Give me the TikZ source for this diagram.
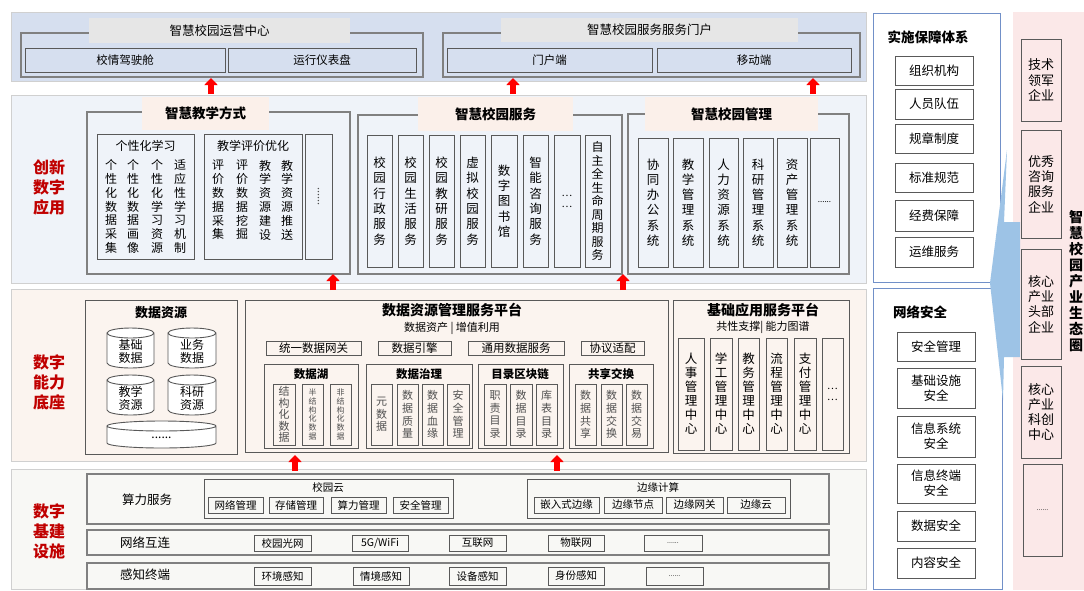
\documentclass[tikz,border=0pt]{standalone}
\usepackage{fontspec}
\setmainfont{Noto Sans CJK SC}
\usetikzlibrary{arrows.meta}
\definecolor{topbg}{HTML}{D6DFEF}
\definecolor{appbg}{HTML}{EFF3F9}
\definecolor{capbg}{HTML}{FBF4EF}
\definecolor{infbg}{HTML}{F8F8F5}
\definecolor{titlegray}{HTML}{E6E6E6}
\definecolor{peach}{HTML}{FBF0EA}
\definecolor{lgray}{HTML}{D0D0D0}
\definecolor{dgray}{HTML}{595959}
\definecolor{mgray}{HTML}{808080}
\definecolor{panelblue}{HTML}{7190C8}
\definecolor{ecobg}{HTML}{FBE8E8}
\definecolor{wedgeblue}{HTML}{9DC3E6}
\definecolor{lblred}{HTML}{C00000}
\definecolor{arrred}{HTML}{FF0000}
\definecolor{txtgray}{HTML}{505050}
\newcommand\fs[2]{\fontsize{#1}{#2}\selectfont}
\makeatletter
\def\vt#1{\vt@a#1\vt@end}
\def\vt@a#1#2\vt@end{#1\ifx\vt@end#2\vt@end\else\\\vt@a#2\vt@end\fi}
\makeatother
% box from corners: style, name, x1, y1, x2, y2, text
\newcommand\bx[7]{%
  \pgfmathsetmacro\bxw{#5-#3}\pgfmathsetmacro\bxh{#6-#4}%
  \node[#1, minimum width=\bxw pt, minimum height=\bxh pt] (#2) at ({(#3+#5)/2},{(#4+#6)/2}) {#7};}
% cylinder: name, x1, y1, x2, y2, text
\newcommand\cyl[6]{%
  \pgfmathsetmacro\cxa{#2}\pgfmathsetmacro\cxb{#4}%
  \pgfmathsetmacro\cya{#3+5}\pgfmathsetmacro\cyb{#5-5}\pgfmathsetmacro\crx{(#4-#2)/2}%
  \draw[cylst] (\cxa,\cya) -- (\cxa,\cyb) arc[start angle=180,end angle=360,x radius=\crx pt,y radius=5pt]
     -- (\cxb,\cya) arc[start angle=0,end angle=360,x radius=\crx pt,y radius=5pt];
  \node[cyltext] (#1) at ({(#2+#4)/2},{(#3+#5)/2+3}) {#6};}
\tikzset{
  band/.style={draw=lgray, line width=0.8pt, inner sep=0pt},
  frame/.style={draw=mgray, line width=1.3pt, inner sep=0pt},
  sub/.style={draw=dgray, line width=0.9pt, inner sep=0pt, align=center, font=\fs{11.5}{13}},
  ttlgray/.style={fill=titlegray, inner sep=0pt, font=\fs{12.5}{14}},
  ttlpeach/.style={fill=peach, inner sep=0pt, font=\bfseries\fs{13.5}{15}},
  bandlabel/.style={text=lblred, font=\bfseries\fs{16}{20}, align=center, inner sep=0pt},
  vtx/.style={align=center, inner sep=0pt, font=\fs{12}{13.8}},
  svc/.style={sub, font=\fs{12.5}{15.3}},
  app/.style={sub, font=\fs{12.5}{14}},
  small/.style={sub, text=txtgray, font=\fs{11}{12.7}},
  rowbox/.style={draw=mgray, line width=1.3pt, inner sep=0pt},
  ibox/.style={sub, font=\fs{10.5}{12}},
  plain/.style={inner sep=0pt, align=center},
  cylst/.style={draw=dgray, line width=0.9pt, fill=white},
  cyltext/.style={inner sep=0pt, align=center, font=\fs{12}{13}},
  panel/.style={draw=panelblue, line width=1pt, fill=white, inner sep=0pt},
  pitem/.style={sub, font=\fs{12.5}{15}},
  eitem/.style={sub, font=\fs{13}{15.3}},
  uparr/.style={draw=arrred, line width=6pt, -{Triangle[width=13pt 0,length=7pt 0]}}
}
\begin{document}
\begin{tikzpicture}[x=1pt,y=-1pt]
\useasboundingbox (0,0) rectangle (1084,590);
\fill[white] (0,0) rectangle (1084,590);

% ===== bands =====
\bx{band, fill=topbg}{bandA}{11}{12}{866}{81}{}
\bx{band, fill=appbg}{bandB}{11}{95}{866}{283}{}
\bx{band, fill=capbg}{bandC}{11}{289}{866}{461}{}
\bx{band, fill=infbg}{bandD}{11}{469}{866}{589}{}
\node[bandlabel] (lblB) at (49,187) {创新\\数字\\应用};
\node[bandlabel] (lblC) at (49,382) {数字\\能力\\底座};
\node[bandlabel] (lblD) at (49,531) {数字\\基建\\设施};

% ===== top band =====
\bx{frame}{opsF}{21}{33}{423}{77}{}
\bx{ttlgray}{opsT}{89}{18}{350}{43}{智慧校园运营中心}
\bx{sub}{ops1}{25}{48}{225}{72}{校情驾驶舱}
\bx{sub}{ops2}{228}{48}{416}{72}{运行仪表盘}
\bx{frame}{porF}{443}{33}{860}{77}{}
\bx{ttlgray}{porT}{501}{18}{798}{42}{智慧校园服务服务门户}
\bx{sub}{por1}{447}{48}{652}{72}{门户端}
\bx{sub}{por2}{657}{48}{851}{72}{移动端}

% ===== application band =====
\bx{frame}{teachF}{87}{112}{350}{274}{}
\bx{ttlpeach}{teachT}{142}{97}{269}{130}{智慧教学方式}
\bx{sub}{pers}{97}{134}{194}{259}{}
\node[plain, font=\fs{12}{14}] (persT) at (145.5,146) {个性化学习};
\node[vtx] (p1) at (111,206.5) {\vt{个性化数据采集}};
\node[vtx] (p2) at (133,206.5) {\vt{个性化数据画像}};
\node[vtx] (p3) at (157,206.5) {\vt{个性化学习资源}};
\node[vtx] (p4) at (180,206.5) {\vt{适应性学习机制}};
\bx{sub}{eval}{204}{134}{302}{259}{}
\node[plain, font=\fs{12}{14}] (evalT) at (253,146) {教学评价优化};
\node[vtx] (e1) at (218,200) {\vt{评价数据采集}};
\node[vtx] (e2) at (242,200) {\vt{评价数据挖掘}};
\node[vtx] (e3) at (265,200) {\vt{教学资源建设}};
\node[vtx] (e4) at (287,200) {\vt{教学资源推送}};
\bx{sub}{more1}{305}{134}{332}{259}{}
\node[plain, rotate=-90, font=\fs{11}{11}, text=txtgray] (more1t) at (more1) {......};

\bx{frame}{svcF}{358}{115}{622}{274}{}
\bx{ttlpeach}{svcT}{418}{97}{573}{131}{智慧校园服务}
\bx{svc}{s1}{367}{135}{392}{267}{\vt{校园行政服务}}
\bx{svc}{s2}{398}{135}{423}{267}{\vt{校园生活服务}}
\bx{svc}{s3}{429}{135}{454}{267}{\vt{校园教研服务}}
\bx{svc}{s4}{460}{135}{485}{267}{\vt{虚拟校园服务}}
\bx{svc}{s5}{491}{135}{517}{267}{\vt{数字图书馆}}
\bx{svc}{s6}{523}{135}{548}{267}{\vt{智能咨询服务}}
\bx{svc, font=\fs{10}{11}}{s7}{554}{135}{580}{267}{…\\…}
\bx{svc, font=\fs{12}{13.5}}{s8}{585}{135}{610}{267}{\vt{自主全生命周期服务}}

\bx{frame}{mgtF}{628}{114}{849}{274}{}
\bx{ttlpeach}{mgtT}{645}{97}{818}{131}{智慧校园管理}
\bx{svc}{m1}{638}{138}{668}{267}{\vt{协同办公系统}}
\bx{svc}{m2}{673}{138}{703}{267}{\vt{教学管理系统}}
\bx{svc}{m3}{709}{138}{738}{267}{\vt{人力资源系统}}
\bx{svc}{m4}{743}{138}{773}{267}{\vt{科研管理系统}}
\bx{svc}{m5}{777}{138}{807}{267}{\vt{资产管理系统}}
\bx{svc, font=\fs{8}{9}}{m6}{810}{138}{839}{267}{......}

% ===== capability band =====
\bx{sub}{resF}{85}{300}{237}{454}{}
\node[plain, font=\bfseries\fs{13}{15}] (resT) at (161,313) {数据资源};
\cyl{c1}{107}{328}{154}{368}{基础\\数据}
\cyl{c2}{168}{328}{216}{368}{业务\\数据}
\cyl{c3}{107}{375}{154}{415}{教学\\资源}
\cyl{c4}{168}{375}{216}{415}{科研\\资源}
\cyl{c5}{107}{421}{216}{448}{......}

\bx{sub}{drmF}{245}{300}{668}{452}{}
\node[plain, font=\bfseries\fs{14}{16}] (drmT) at (452,310) {数据资源管理服务平台};
\node[plain, font=\fs{11}{13}] (drmS) at (452,328) {数据资产 | 增值利用};
\bx{sub}{g1}{266}{341}{361}{355}{统一数据网关}
\bx{sub}{g2}{378}{341}{451}{355}{数据引擎}
\bx{sub}{g3}{468}{341}{564}{355}{通用数据服务}
\bx{sub}{g4}{581}{341}{644}{355}{协议适配}
\bx{sub}{lakeF}{264}{364}{358}{448}{}
\node[plain, font=\bfseries\fs{11.5}{13}] (lakeT) at (311,374) {数据湖};
\bx{small, font=\fs{11}{11.5}}{l1}{273}{384}{295}{445}{\vt{结构化数据}}
\bx{small, font=\fs{8}{8.8}}{l2}{302}{384}{323}{445}{\vt{半结构化数据}}
\bx{small, font=\fs{8}{8.8}}{l3}{330}{384}{351}{445}{\vt{非结构化数据}}
\bx{sub}{govF}{366}{364}{472}{448}{}
\node[plain, font=\bfseries\fs{11.5}{13}] (govT) at (419,374) {数据治理};
\bx{small}{d1}{371}{384}{392}{445}{\vt{元数据}}
\bx{small}{d2}{397}{384}{418}{445}{\vt{数据质量}}
\bx{small}{d3}{422}{384}{443}{445}{\vt{数据血缘}}
\bx{small}{d4}{447}{384}{469}{445}{\vt{安全管理}}
\bx{sub}{catF}{478}{364}{563}{448}{}
\node[plain, font=\bfseries\fs{11.5}{13}] (catT) at (520,374) {目录区块链};
\bx{small}{k1}{484}{384}{506}{445}{\vt{职责目录}}
\bx{small}{k2}{510}{384}{532}{445}{\vt{数据目录}}
\bx{small}{k3}{536}{384}{557}{445}{\vt{库表目录}}
\bx{sub}{shrF}{569}{364}{653}{448}{}
\node[plain, font=\bfseries\fs{11.5}{13}] (shrT) at (611,374) {共享交换};
\bx{small}{x1}{575}{384}{596}{445}{\vt{数据共享}}
\bx{small}{x2}{601}{384}{622}{445}{\vt{数据交换}}
\bx{small}{x3}{626}{384}{647}{445}{\vt{数据交易}}

\bx{sub}{bapF}{673}{300}{849}{453}{}
\node[plain, font=\bfseries\fs{14}{16}] (bapT) at (763,310) {基础应用服务平台};
\node[plain, font=\fs{11}{13}] (bapS) at (763,327) {共性支撑| 能力图谱};
\bx{app}{b1}{678}{338}{704}{450}{\vt{人事管理中心}}
\bx{app}{b2}{710}{338}{732}{450}{\vt{学工管理中心}}
\bx{app}{b3}{738}{338}{759}{450}{\vt{教务管理中心}}
\bx{app}{b4}{766}{338}{787}{450}{\vt{流程管理中心}}
\bx{app}{b5}{794}{338}{816}{450}{\vt{支付管理中心}}
\bx{app, font=\fs{10}{11}}{b6}{822}{338}{843}{450}{…\\…}

% ===== infrastructure band =====
\bx{rowbox}{r1}{87}{474}{829}{524}{}
\node[plain, font=\fs{12.5}{14}] (r1T) at (147,500) {算力服务};
\bx{sub}{cloudF}{204}{479}{453}{518}{}
\node[plain, font=\fs{10.5}{12}] (cloudT) at (328,487) {校园云};
\bx{ibox}{cl1}{208}{497}{263}{513}{网络管理}
\bx{ibox}{cl2}{269}{497}{323}{513}{存储管理}
\bx{ibox}{cl3}{331}{497}{386}{513}{算力管理}
\bx{ibox}{cl4}{393}{497}{448}{513}{安全管理}
\bx{sub}{edgeF}{527}{479}{790}{518}{}
\node[plain, font=\fs{10.5}{12}] (edgeT) at (658,487) {边缘计算};
\bx{ibox}{ed1}{534}{497}{599}{513}{嵌入式边缘}
\bx{ibox}{ed2}{604}{497}{662}{513}{边缘节点}
\bx{ibox}{ed3}{666}{497}{723}{513}{边缘网关}
\bx{ibox}{ed4}{727}{497}{785}{513}{边缘云}

\bx{rowbox}{r2}{87}{530}{829}{555}{}
\node[plain, font=\fs{12.5}{14}] (r2T) at (145,543) {网络互连};
\bx{ibox}{n1}{254}{535}{311}{551}{校园光网}
\bx{ibox}{n2}{352}{535}{408}{551}{5G/WiFi}
\bx{ibox}{n3}{449}{535}{506}{551}{互联网}
\bx{ibox}{n4}{548}{535}{604}{551}{物联网}
\bx{ibox, font=\fs{7}{8}}{n5}{644}{535}{702}{551}{......}

\bx{rowbox}{r3}{87}{563}{829}{589}{}
\node[plain, font=\fs{12.5}{14}] (r3T) at (145,575) {感知终端};
\bx{ibox}{t1}{254}{567}{311}{585}{环境感知}
\bx{ibox}{t2}{353}{567}{409}{585}{情境感知}
\bx{ibox}{t3}{449}{567}{506}{585}{设备感知}
\bx{ibox}{t4}{548}{567}{604}{585}{身份感知}
\bx{ibox, font=\fs{7}{8}}{t5}{646}{567}{703}{585}{......}

% ===== arrows =====
\coordinate (a1s) at (211,94);  \coordinate (a1e) at (211,78);
\coordinate (a2s) at (513,94);  \coordinate (a2e) at (513,78);
\coordinate (a3s) at (813,94);  \coordinate (a3e) at (813,78);
\coordinate (a4s) at (333,290); \coordinate (a4e) at (333,274);
\coordinate (a5s) at (623,290); \coordinate (a5e) at (623,274);
\coordinate (a6s) at (295,471); \coordinate (a6e) at (295,455);
\coordinate (a7s) at (557,471); \coordinate (a7e) at (557,455);
\foreach \i in {1,...,7} {\draw[uparr] (a\i s) -- (a\i e);}

% ===== right panels =====
\bx{panel}{impF}{873}{13}{1000}{282}{}
\node[plain, font=\bfseries\fs{13.5}{15}] (impT) at (928,37) {实施保障体系};
\bx{pitem}{i1}{895}{56}{973}{85}{组织机构}
\bx{pitem}{i2}{895}{89}{973}{119}{人员队伍}
\bx{pitem}{i3}{895}{124}{973}{153}{规章制度}
\bx{pitem}{i4}{895}{163}{973}{192}{标准规范}
\bx{pitem}{i5}{895}{200}{973}{231}{经费保障}
\bx{pitem}{i6}{895}{237}{973}{267}{运维服务}

\bx{panel}{secF}{873}{288}{1002}{589}{}
\node[plain, font=\bfseries\fs{13.5}{15}] (secT) at (920,312) {网络安全};
\bx{pitem}{q1}{897}{332}{975}{361}{安全管理}
\bx{pitem}{q2}{897}{368}{975}{408}{基础设施\\安全}
\bx{pitem}{q3}{897}{416}{975}{457}{信息系统\\安全}
\bx{pitem}{q4}{897}{464}{975}{503}{信息终端\\安全}
\bx{pitem}{q5}{897}{511}{975}{541}{数据安全}
\bx{pitem}{q6}{897}{548}{975}{578}{内容安全}

% ===== ecosystem =====
\fill[ecobg] (1013,12) rectangle (1084,590);
\fill[wedgeblue] (1007,150) -- (1004,222) -- (1020,222) -- (1020,357) -- (1004,357) -- (1003,400) -- (990,283) -- cycle;
\bx{eitem}{z1}{1021}{39}{1061}{121}{技术\\领军\\企业}
\bx{eitem}{z2}{1021}{130}{1061}{238}{优秀\\咨询\\服务\\企业}
\bx{eitem}{z3}{1021}{249}{1061}{359}{核心\\产业\\头部\\企业}
\bx{eitem}{z4}{1021}{366}{1061}{458}{核心\\产业\\科创\\中心}
\bx{eitem, font=\fs{7}{8}}{z5}{1023}{464}{1062}{556}{......}
\node[plain, font=\bfseries\fs{14}{16}] (ecoT) at (1076,281) {\vt{智慧校园产业生态圈}};
\end{tikzpicture}
\end{document}
